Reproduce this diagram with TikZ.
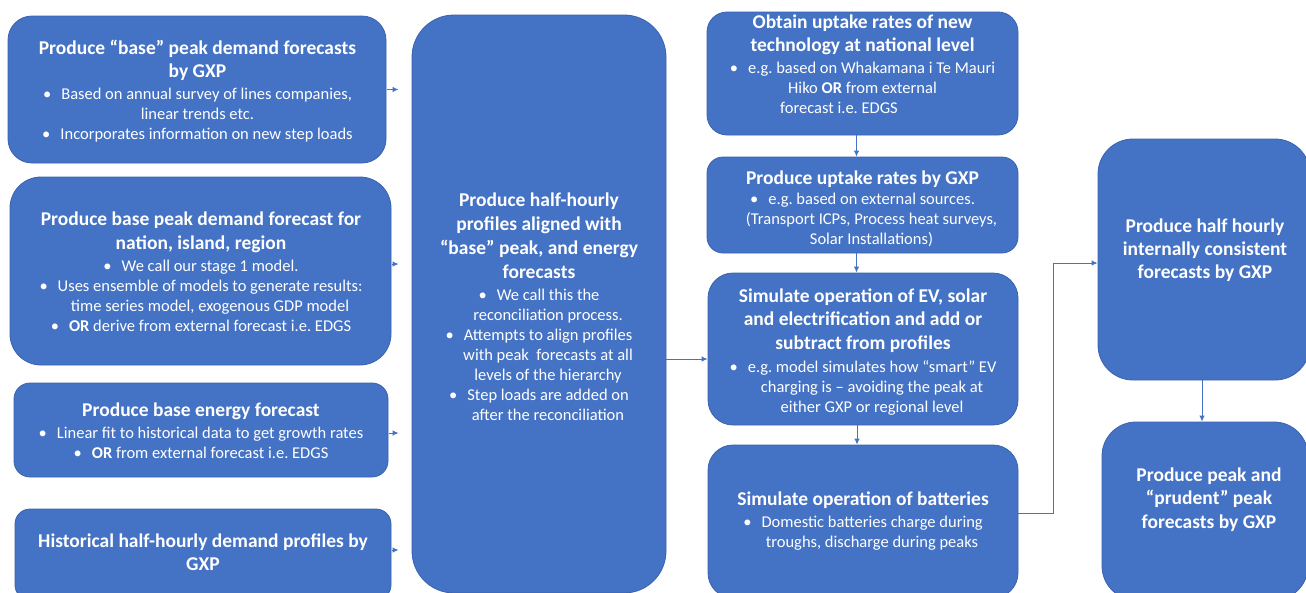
\documentclass[tikz,border=0pt]{standalone}
\usepackage{fontspec}
\setmainfont{Carlito}
\usetikzlibrary{arrows.meta}
\definecolor{boxblue}{HTML}{4472C4}
\definecolor{boxedge}{HTML}{3A62AE}
% heading line, bullet mark, indent of a wrapped bullet line
\newcommand\hd[1]{{\fontsize{19.5}{20}\selectfont\bfseries #1}}
\newcommand\bul{\textbullet\hspace{10pt}}
\newcommand\ind{\hspace*{18pt}}
\begin{document}
\begin{tikzpicture}[x=1pt,y=-1pt,
  box/.style={draw=boxedge, line width=0.8pt, fill=boxblue},
  txt/.style={text=white, align=center, inner sep=0pt,
    font=\fontsize{16.5}{20}\selectfont},
  arr/.style={draw=boxblue, line width=1pt, -{Latex[length=6pt,width=5.5pt]}},
  stub/.style={arr, shorten <=0.5pt, shorten >=13pt}]
\clip (0,0) rectangle (1306,592);

% ---- left column: inputs
\node[box, minimum width=378pt, minimum height=147pt, rounded corners=24pt] (A) at (197,89.5) {};
\node[txt] (At) at (197.5,91) {\hd{Produce “base” peak demand forecasts}\\[3.5pt]\hd{by GXP}\\[2pt]
  \bul Based on annual survey of lines companies,\\ linear trends etc.\\
  \bul Incorporates information on new step loads};

\node[box, minimum width=381pt, minimum height=188pt, rounded corners=31pt] (B) at (200.5,271) {};
\node[txt] (Bt) at (201,271.5) {\hd{Produce base peak demand forecast for}\\[3.5pt]\hd{nation, island, region}\\[2pt]
  \bul We call our stage 1 model.\\
  \bul Uses ensemble of models to generate results:\\ \ind time series model, exogenous GDP model\\
  \bul \textbf{OR} derive from external forecast i.e.\ EDGS};

\node[box, minimum width=374pt, minimum height=94pt, rounded corners=16pt] (C) at (201,430) {};
\node[txt] (Ct) at (201,431) {\hd{Produce base energy forecast}\\[2pt]
  \bul Linear fit to historical data to get growth rates\\
  \bul \textbf{OR} from external forecast i.e.\ EDGS};

\node[box, minimum width=376pt, minimum height=91pt, rounded corners=15pt] (D) at (203,554.5) {};
\node[txt] (Dt) at (203,552) {\hd{Historical half-hourly demand profiles by}\\[3.5pt]\hd{GXP}};

% ---- reconciliation
\node[box, minimum width=254pt, minimum height=578pt, rounded corners=42pt] (M) at (539,304) {};
\node[txt] (Mt) at (539,307) {\hd{Produce half-hourly}\\[4pt]\hd{profiles aligned with}\\[4pt]
  \hd{“base” peak, and energy}\\[4pt]\hd{forecasts}\\[2pt]
  \bul We call this the\\ \ind reconciliation process.\\
  \bul Attempts to align profiles\\ \ind with peak\ \ forecasts at all\\ \ind levels of the hierarchy\\
  \bul Step loads are added on\\ \ind after the reconciliation};

% ---- new technology chain
\node[box, minimum width=311pt, minimum height=123pt, rounded corners=20pt] (F) at (862.5,73.5) {};
\node[txt] (Ft) at (862.5,64.5) {\hd{Obtain uptake rates of new}\\[3pt]\hd{technology at national level}\\[2pt]
  \bul e.g.\ based on Whakamana i Te Mauri\\
  Hiko \textbf{OR} from external\hspace*{47pt}\\ forecast i.e.\ EDGS\hspace*{47pt}};

\node[box, minimum width=311pt, minimum height=96pt, rounded corners=16pt] (G) at (862.5,205) {};
\node[txt] (Gt) at (862.5,209) {\hd{Produce uptake rates by GXP}\\[0pt]
  \bul e.g.\ based on external sources.\\
  \ind(Transport ICPs, Process heat surveys,\\ \ind Solar Installations)};

\node[box, minimum width=310pt, minimum height=152pt, rounded corners=25pt] (H) at (863,349) {};
\node[txt] (Ht) at (863,352) {\hd{Simulate operation of EV, solar}\\[3.5pt]\hd{and electrification and add or}\\[3.5pt]
  \hd{subtract from profiles}\\[3pt]
  \bul e.g.\ model simulates how “smart” EV\\
  \ind charging is – avoiding the peak at\\ \ind either GXP or regional level};

\node[box, minimum width=310pt, minimum height=153pt, rounded corners=25pt] (I) at (863,521.5) {};
\node[txt] (It) at (863,521.5) {\hd{Simulate operation of batteries}\\[2pt]
  \bul Domestic batteries charge during\\ \ind troughs, discharge during peaks};

% ---- outputs
\node[box, minimum width=212pt, minimum height=241pt, rounded corners=35pt] (J) at (1204,259.5) {};
\node[txt] (Jt) at (1205,250) {\hd{Produce half hourly}\\[3pt]\hd{internally consistent}\\[3pt]\hd{forecasts by GXP}};

\node[box, minimum width=206pt, minimum height=178pt, rounded corners=34pt] (K) at (1205,511) {};
\node[txt] (Kt) at (1209,499.5) {\hd{Produce peak and}\\[3.5pt]\hd{“prudent” peak}\\[3.5pt]\hd{forecasts by GXP}};

% ---- connectors
\draw[stub] (A.east) -- (A.east -| M.west);
\draw[stub] ([yshift=7pt]B.east) -- ([yshift=7pt]B.east -| M.west);
\draw[stub] ([yshift=-3pt]C.east) -- ([yshift=-3pt]C.east -| M.west);
\draw[stub] ([yshift=4.5pt]D.east) -- ([yshift=4.5pt]D.east -| M.west);
\draw[arr] ([yshift=-10pt]H.west -| M.east) -- ([yshift=-10pt]H.west);
\draw[arr] ([xshift=-6pt]F.south) -- ([xshift=-6pt]F.south |- G.north);
\draw[arr] ([xshift=-6pt]G.south) -- ([xshift=-6pt]G.south |- H.north);
\draw[arr] ([xshift=-6pt]H.south) -- ([xshift=-6pt]H.south |- I.north);
\draw[arr] ([yshift=8.5pt]I.east) -- ++(35,0) |- ([yshift=-3.5pt]J.west);
\draw[arr] ([xshift=-2pt]J.south) -- ([xshift=-2pt]J.south |- K.north);
\end{tikzpicture}
\end{document}
